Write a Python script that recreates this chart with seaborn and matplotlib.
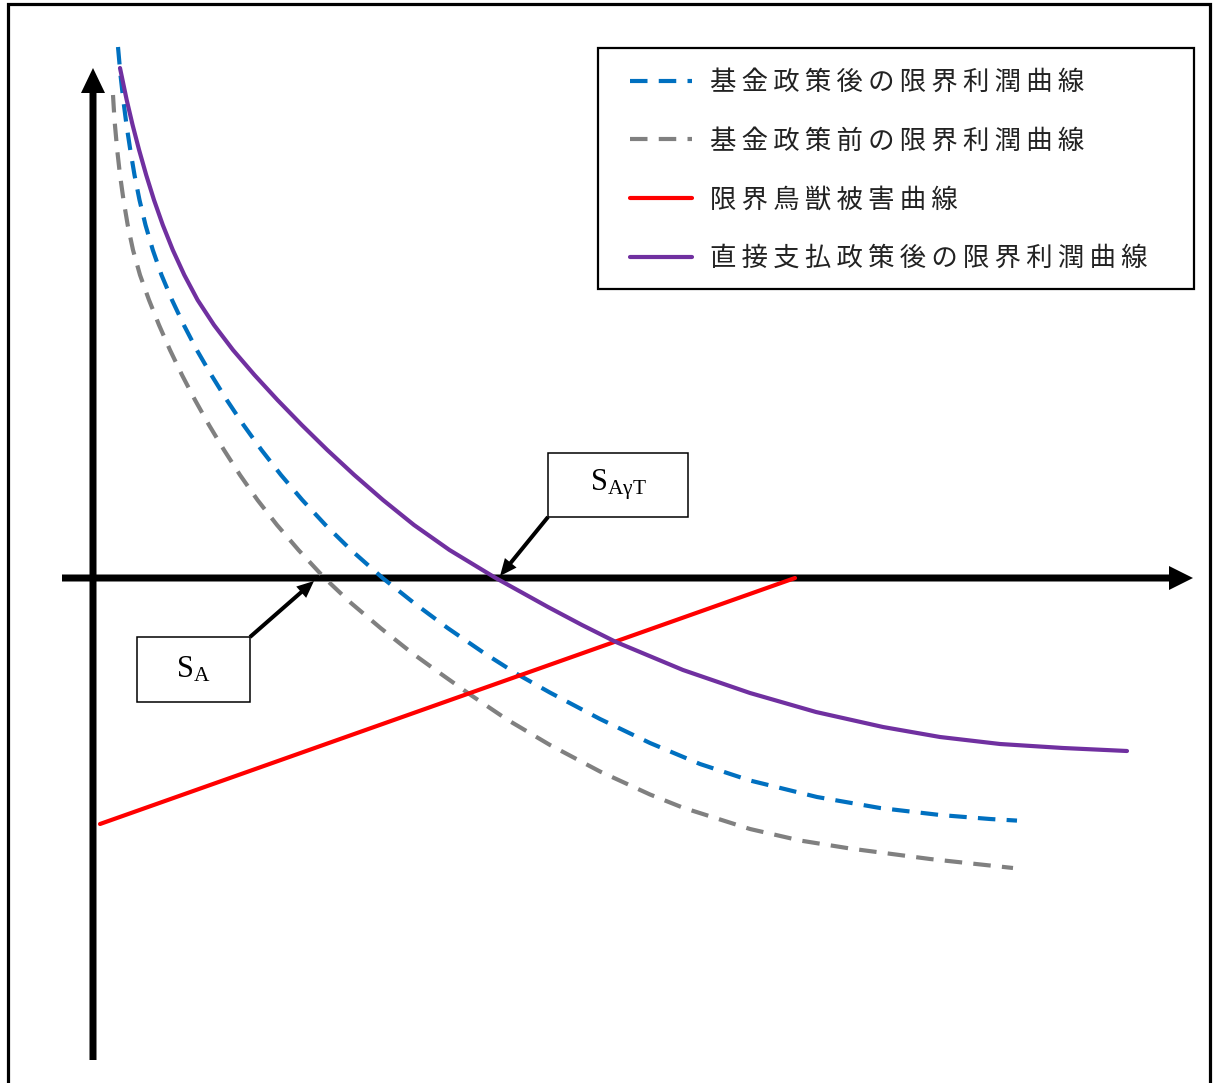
import matplotlib
matplotlib.use("Agg")
import matplotlib.pyplot as plt
from matplotlib.patches import Rectangle
from matplotlib.font_manager import FontProperties
import pandas as pd
import seaborn as sns

# Marginal profit after the fund policy (x: quantity, y: marginal value)
fund_after_x = [0.25, 0.275, 0.303, 0.335, 0.373, 0.415, 0.465, 0.525, 0.598, 0.685,
                0.79, 0.908, 1.038, 1.183, 1.338, 1.505, 1.685, 1.88, 2.093, 2.325,
                2.58, 2.896, 3.21, 3.546, 3.91, 4.24, 4.57, 5.07, 5.57, 6.07,
                6.57, 7.24, 7.87, 8.47, 8.97, 9.24]
fund_after_y = [5.31, 5.03, 4.78, 4.53, 4.28, 4.03, 3.78, 3.53, 3.28, 3.03,
                2.78, 2.53, 2.28, 2.03, 1.78, 1.53, 1.28, 1.03, 0.78, 0.53,
                0.28, 0.00, -0.25, -0.50, -0.75, -0.96, -1.146, -1.41, -1.65, -1.86,
                -2.025, -2.19, -2.30, -2.37, -2.41, -2.426]

# Marginal profit before the fund policy
fund_before_x = [0.20, 0.215, 0.242, 0.27, 0.305, 0.347, 0.40, 0.47, 0.56, 0.66,
                 0.77, 0.89, 1.02, 1.16, 1.31, 1.47, 1.645, 1.84, 2.055, 2.315,
                 2.58, 2.875, 3.19, 3.425, 3.77, 4.14, 4.57, 5.07, 5.57, 5.90,
                 6.57, 7.07, 7.57, 8.37, 9.20]
fund_before_y = [4.83, 4.58, 4.28, 4.03, 3.78, 3.53, 3.28, 3.03, 2.78, 2.53,
                 2.28, 2.03, 1.78, 1.53, 1.28, 1.03, 0.78, 0.53, 0.28, 0.00,
                 -0.25, -0.50, -0.75, -0.92, -1.165, -1.415, -1.67, -1.935, -2.165, -2.297,
                 -2.51, -2.625, -2.705, -2.81, -2.90]

# Marginal wildlife damage
damage_x = [0.07, 7.02]
damage_y = [-2.46, 0.00]

# Marginal profit after the direct payment policy
direct_x = [0.27, 0.337, 0.396, 0.461, 0.532, 0.61, 0.698, 0.798, 0.913, 1.046,
            1.21, 1.40, 1.615, 1.845, 2.088, 2.343, 2.613, 2.90, 3.21, 3.565,
            4.027, 4.55, 4.89, 5.23, 5.90, 6.57, 7.23, 7.90, 8.47, 9.07,
            9.70, 10.34]
direct_y = [5.10, 4.78, 4.53, 4.28, 4.03, 3.78, 3.53, 3.28, 3.03, 2.78,
            2.53, 2.28, 2.03, 1.78, 1.53, 1.28, 1.03, 0.78, 0.53, 0.28,
            0.00, -0.29, -0.47, -0.64, -0.92, -1.15, -1.34, -1.49, -1.59, -1.66,
            -1.70, -1.73]

labels = ["基金政策後の限界利潤曲線", "基金政策前の限界利潤曲線", "限界鳥獣被害曲線", "直接支払政策後の限界利潤曲線"]
colors = ["#0070C0", "#808080", "#FF0000", "#7030A0"]
label_sa = r"$\mathrm{S_{A}}$"
label_sat = r"$\mathrm{S_{AγT}}$"

sns.set_theme(style="white")
plt.rcParams["font.family"] = ["Noto Sans CJK JP", "DejaVu Sans"]
plt.rcParams["mathtext.fontset"] = "custom"
plt.rcParams["mathtext.rm"] = "Liberation Serif"

W, H = 1218, 1083
fig = plt.figure(figsize=(W / 100, H / 100), dpi=100)
ax = fig.add_axes([0, 0, 1, 1])
ox, oy = 93, 578  # origin in pixels; 100 px per unit


def P(px, py):
    return (px - ox) / 100.0, (oy - py) / 100.0


x0, y1 = P(0, 0)
x1, y0 = P(W, H)
ax.set_xlim(x0, x1)
ax.set_ylim(y0, y1)
ax.set_axis_off()

# outer frame
fig.patches.append(Rectangle((8 / W, -0.02), (1210 - 8) / W, 1 - 4 / H + 0.02,
                             transform=fig.transFigure, fill=False,
                             edgecolor="black", linewidth=2.3, zorder=0))

# coordinate axes as thick arrows
vx, vy = P(93, 1060)
_, vtop = P(93, 68)
ax.arrow(vx, vy, 0, vtop - vy, width=0.07, head_width=0.24, head_length=0.25,
         length_includes_head=True, color="black", lw=0, zorder=2)
hx, hy = P(62, 578)
hend, _ = P(1193, 578)
ax.arrow(hx, hy, hend - hx, 0, width=0.07, head_width=0.24, head_length=0.24,
         length_includes_head=True, color="black", lw=0, zorder=2)

dash = (0, (4.2, 2.7))
lw = 3.0
series = [
    (fund_after_x, fund_after_y, colors[0], dash, labels[0]),
    (fund_before_x, fund_before_y, colors[1], dash, labels[1]),
    (damage_x, damage_y, colors[2], "-", labels[2]),
    (direct_x, direct_y, colors[3], "-", labels[3]),
]
for xs, ys, c, ls, lab in series:
    df = pd.DataFrame({"x": xs, "y": ys})
    sns.lineplot(data=df, x="x", y="y", ax=ax, color=c, linestyle=ls,
                 linewidth=lw, sort=False, label=lab, zorder=3)

h, l = ax.get_legend_handles_labels()
thin = "\u2009"
leg_labels = [thin.join(list(t)) for t in l]
prop = FontProperties(family=["Noto Sans CJK JP", "DejaVu Sans"], size=19)
bx0, by0 = P(630, 69)
leg = ax.legend(h, leg_labels, loc="upper left", bbox_to_anchor=(bx0, by0),
                bbox_transform=ax.transData, frameon=False, prop=prop,
                handlelength=2.35, handletextpad=0.7, labelspacing=1.2,
                borderpad=0, borderaxespad=0)
for t in leg.get_texts():
    t.set_color("#222222")

# legend frame
lx0, ly1 = P(598, 48)
lx1, ly0 = P(1194, 289)
ax.add_patch(Rectangle((lx0, ly0), lx1 - lx0, ly1 - ly0, fill=False,
                       edgecolor="black", linewidth=1.6, zorder=4))

# callout boxes
for (bxa, bya, bxb, byb, lab) in [(548, 453, 688, 517, label_sat),
                                  (137, 637, 250, 702, label_sa)]:
    ax0_, ay1_ = P(bxa, bya)
    ax1_, ay0_ = P(bxb, byb)
    ax.add_patch(Rectangle((ax0_, ay0_), ax1_ - ax0_, ay1_ - ay0_, fill=True,
                           facecolor="white", edgecolor="black", linewidth=1.1, zorder=4))
    ax.text((ax0_ + ax1_) / 2, (ay0_ + ay1_) / 2, lab, ha="center", va="center",
            fontsize=22, color="black", zorder=5)

# callout arrows
for (tx, ty, hx_, hy_) in [(548, 517, 500, 576), (250, 637, 314, 581)]:
    ax_, ay_ = P(tx, ty)
    bx_, by_ = P(hx_, hy_)
    ax.arrow(ax_, ay_, bx_ - ax_, by_ - ay_, width=0.04, head_width=0.15,
             head_length=0.17, length_includes_head=True, color="black",
             lw=0, zorder=5)

fig.savefig("out.png", dpi=100, facecolor="white")
